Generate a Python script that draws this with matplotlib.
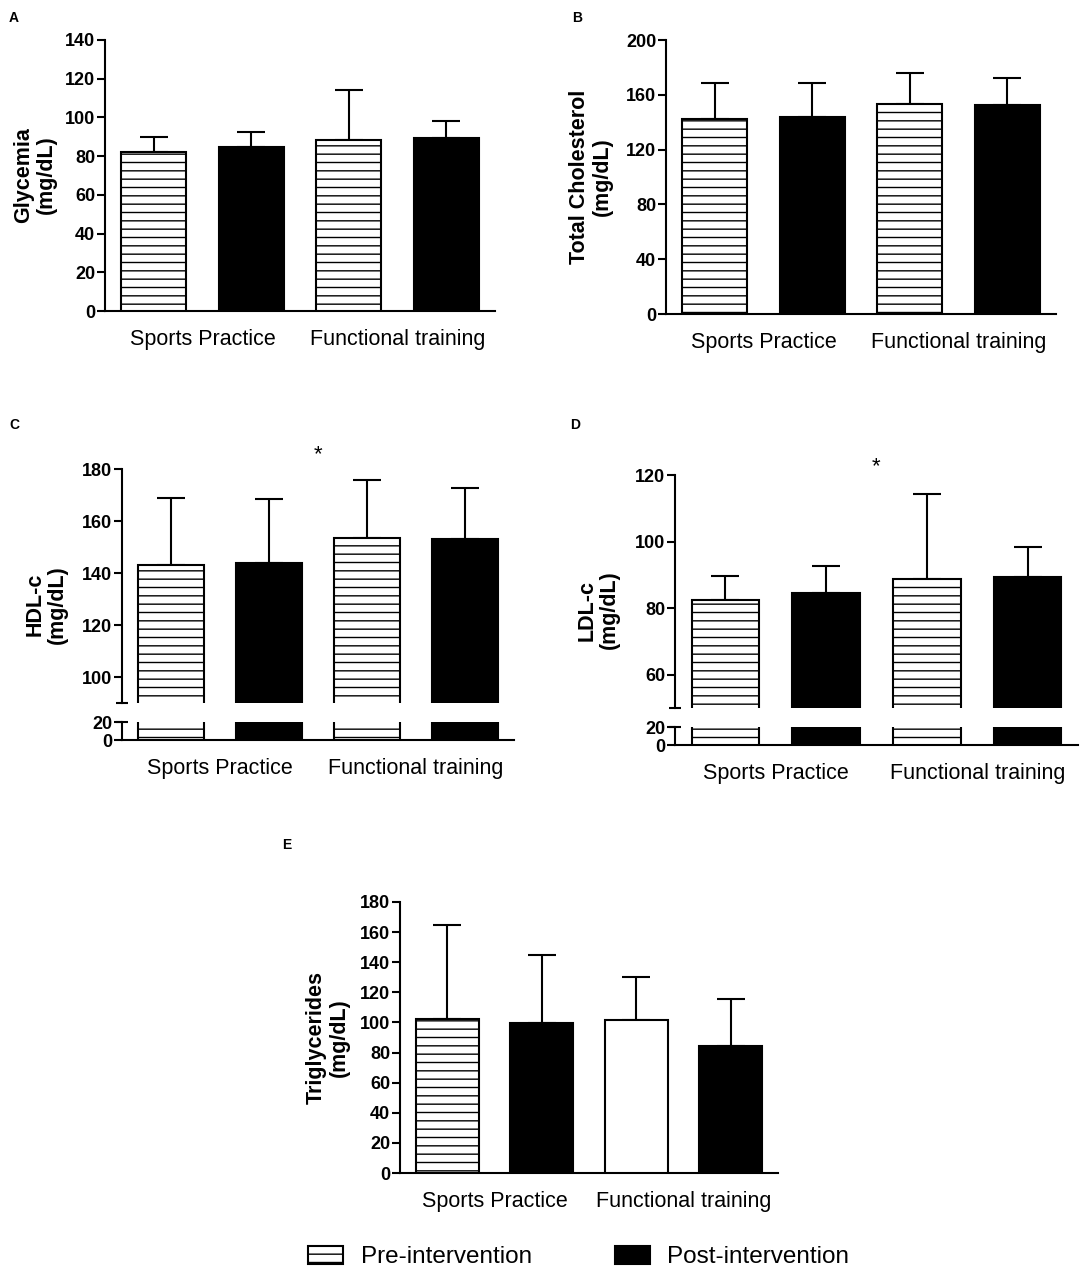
import matplotlib
matplotlib.use('Agg')
import matplotlib.pyplot as plt
from matplotlib.patches import Patch
import numpy as np

plt.rcParams['font.family'] = ['Liberation Sans', 'DejaVu Sans']
plt.rcParams['hatch.linewidth'] = 1.0
plt.rcParams['hatch.color'] = 'black'

# data (order: pre SP, post SP, pre FT, post FT)
groups = ['Sports Practice', 'Functional training']
legend_labels = ['Pre-intervention', 'Post-intervention']

glycemia_mean = [82.0, 84.5, 88.5, 89.4]
glycemia_sd = [7.7, 7.8, 25.8, 9.0]

cholesterol_mean = [142.5, 143.5, 153.5, 152.8]
cholesterol_sd = [26.4, 24.8, 22.4, 19.4]

hdl_mean = [142.9, 143.8, 153.6, 153.1]
hdl_sd = [26.0, 24.7, 22.0, 19.5]

ldl_mean = [82.3, 84.5, 88.8, 89.5]
ldl_sd = [7.5, 8.1, 25.5, 9.0]

trig_mean = [102.2, 99.5, 101.5, 84.4]
trig_sd = [62.3, 45.5, 28.4, 31.5]

W, H = 1084, 1275
fig = plt.figure(figsize=(W / 100, H / 100), dpi=100)


def box(l, r, t, b):
    return [l / W, 1 - b / H, (r - l) / W, (b - t) / H]


x = np.arange(4)
bw = 0.67
LW = 1.5


def draw_bars(ax, means, fills=('pre', 'post', 'pre', 'post')):
    for xi, m, f in zip(x, means, fills):
        if f == 'pre':
            ax.bar(xi, m, bw, color='white', edgecolor='black', hatch='--', linewidth=LW, zorder=3)
        elif f == 'post':
            ax.bar(xi, m, bw, color='black', edgecolor='black', linewidth=LW, zorder=3)
        else:
            ax.bar(xi, m, bw, color='white', edgecolor='black', linewidth=LW, zorder=3)


def style(ax, ylim, yticks, bottom=True):
    ax.set_xlim(-0.5, 3.5)
    ax.set_ylim(*ylim)
    ax.set_yticks(yticks)
    ax.spines['top'].set_visible(False)
    ax.spines['right'].set_visible(False)
    ax.spines['left'].set_linewidth(LW)
    ax.spines['bottom'].set_linewidth(LW)
    ax.tick_params(axis='y', length=6, width=LW, pad=1, labelsize=13)
    for lab in ax.get_yticklabels():
        lab.set_fontweight('bold')
    if bottom:
        ax.set_xticks([0.5, 2.5])
        ax.set_xticklabels(groups, fontsize=15.5)
        ax.tick_params(axis='x', length=0, pad=13)
    else:
        ax.spines['bottom'].set_visible(False)
        ax.set_xticks([])


def errbars(ax, means, sds):
    ax.errorbar(x, means, yerr=[np.zeros(4), sds], fmt='none', ecolor='black',
                elinewidth=LW, capsize=10, capthick=LW, zorder=2)


def ylab(text, cx, cy):
    fig.text(cx / W, 1 - cy / H, text, rotation=90, ha='center', va='center',
             fontsize=15.5, fontweight='bold', multialignment='center', linespacing=1.1)


# A
axA = fig.add_axes(box(105, 495, 40, 311))
draw_bars(axA, glycemia_mean)
errbars(axA, glycemia_mean, glycemia_sd)
style(axA, (0, 140), range(0, 141, 20))
ylab('Glycemia\n(mg/dL)', 35, 175)

# B
axB = fig.add_axes(box(666, 1056, 40, 314))
draw_bars(axB, cholesterol_mean)
errbars(axB, cholesterol_mean, cholesterol_sd)
style(axB, (0, 200), range(0, 201, 40))
ylab('Total Cholesterol\n(mg/dL)', 591, 177)


def broken(l, r, t, bu, tl, bl, means, sds, ylim_u, ticks_u, label, lx, star_y):
    axu = fig.add_axes(box(l, r, t, bu))
    axl = fig.add_axes(box(l, r, tl, bl))
    draw_bars(axu, means)
    errbars(axu, means, sds)
    style(axu, ylim_u, ticks_u, bottom=False)
    draw_bars(axl, means)
    style(axl, (0, 20), [0, 20])
    axu.plot([0], [0], marker='_', markersize=9, mew=LW, color='black',
             transform=axu.transAxes, clip_on=False)
    axl.plot([0], [1], marker='_', markersize=9, mew=LW, color='black',
             transform=axl.transAxes, clip_on=False)
    axu.text(1.5, star_y, '*', ha='center', va='center', fontsize=16, clip_on=False)
    ylab(label, lx, (t + bl) / 2)
    return axu, axl


# C
broken(122, 514, 469, 703, 722, 740, hdl_mean, hdl_sd, (90, 180), [100, 120, 140, 160, 180],
       'HDL-c\n(mg/dL)', 46, 185.5)

# D
broken(675, 1078, 475, 708, 727, 745, ldl_mean, ldl_sd, (50, 120), [60, 80, 100, 120],
       'LDL-c\n(mg/dL)', 598, 122.5)

# E
axE = fig.add_axes(box(400, 778, 902, 1173))
draw_bars(axE, trig_mean, fills=('pre', 'post', 'open', 'post'))
errbars(axE, trig_mean, trig_sd)
style(axE, (0, 180), range(0, 181, 20))
ylab('Triglycerides\n(mg/dL)', 328, 1038)

# panel letters
for letter, px, py in [('A', 14, 18), ('B', 577, 18), ('C', 14, 425), ('D', 575, 425), ('E', 287, 845)]:
    fig.text(px / W, 1 - py / H, letter, fontsize=10, fontweight='bold', ha='center', va='center')

# legend
handles = [Patch(facecolor='white', edgecolor='black', hatch='--', linewidth=LW),
           Patch(facecolor='black', edgecolor='black', linewidth=LW)]
fig.legend(handles, legend_labels, loc='center left', bbox_to_anchor=(308 / W, 1 - 1257 / H),
           ncol=2, frameon=False, fontsize=17.5, handlelength=1.45, handleheight=0.82,
           handletextpad=0.72, columnspacing=3.4, borderpad=0, borderaxespad=0)

fig.savefig('out.png', dpi=100)
